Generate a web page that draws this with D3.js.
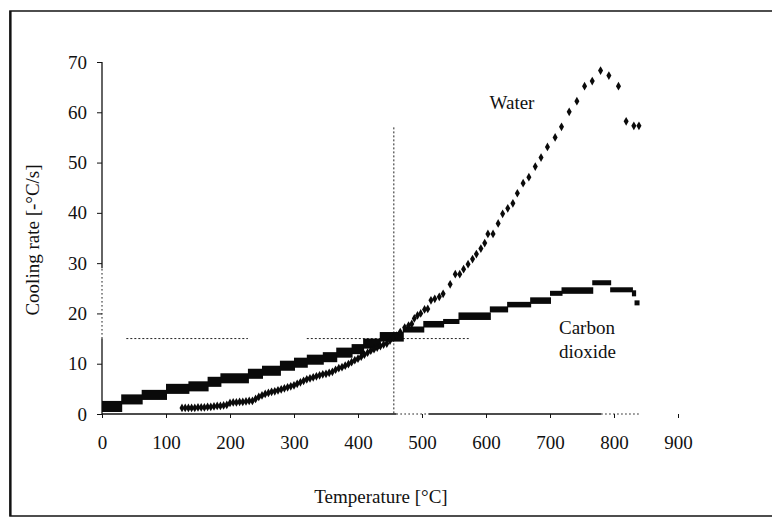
<!DOCTYPE html>
<html>
<head>
<meta charset="utf-8">
<script src="https://cdn.jsdelivr.net/npm/d3@7"></script>
<style>
  body { margin: 0; background: #fff; }
  svg { display: block; }
  svg text { font-family: "Liberation Serif", "Times New Roman", Times, serif; fill: #111; }
</style>
</head>
<body>
<div id="chart"></div>
<script>
// Cooling rate vs temperature, water and carbon dioxide quench

const xTicks = [0, 100, 200, 300, 400, 500, 600, 700, 800, 900];
const yTicks = [0, 10, 20, 30, 40, 50, 60, 70];

// Carbon dioxide: the rate is logged in steps, so it reads as a stepped band
const co2From = [0, 30, 62, 100, 135, 165, 185, 228, 250, 278, 300, 320, 345, 366, 390, 408, 434, 470, 502, 533, 557, 606, 633, 669, 700, 718, 766, 794, 828];
const co2To   = [30, 62, 100, 135, 165, 185, 228, 250, 278, 300, 320, 345, 366, 390, 408, 434, 470, 502, 533, 557, 606, 633, 669, 700, 718, 766, 794, 828, 833];
const co2Low  = [0.4, 1.9, 2.8, 4.0, 4.5, 5.4, 6.1, 7.0, 7.6, 8.6, 9.2, 9.8, 10.3, 11.2, 11.9, 13.0, 14.4, 16.2, 17.2, 17.9, 18.7, 20.2, 21.2, 21.9, 23.5, 23.9, 25.6, 24.2, 23.4];
const co2High = [2.6, 3.9, 4.8, 6.0, 6.5, 7.4, 8.1, 9.0, 9.6, 10.6, 11.2, 11.8, 12.3, 13.2, 13.9, 15.0, 16.3, 17.4, 18.5, 18.9, 20.2, 21.4, 22.3, 23.2, 24.5, 25.2, 26.6, 25.2, 24.6];
const co2EndTemp = [836];
const co2EndRate = [22.1];

// Water: single readings
const waterTemp = [125, 130, 135, 140, 145, 150, 155, 160, 165, 170, 175, 180, 185, 190, 195,
  200, 205, 210, 215, 220, 225, 230, 235, 240, 245, 250, 255, 260, 265, 270, 275, 280, 285, 290, 295,
  300, 305, 310, 315, 320, 325, 330, 335, 340, 345, 350, 355, 360, 365, 370, 375, 380, 385, 390, 395,
  400, 405, 410, 415, 420, 425, 430, 435, 440, 445, 450, 455,
  460, 466, 473, 479, 484, 488, 493, 498, 504, 509, 514, 520, 527, 533, 544, 552, 559, 565, 572, 579,
  585, 592, 598, 603, 611, 619, 626, 634, 642, 649, 658, 667, 677, 686, 696, 708, 718, 730, 742, 754,
  766, 779, 792, 807, 819, 831, 839];
const waterRate = [1.2, 1.2, 1.2, 1.2, 1.2, 1.3, 1.3, 1.3, 1.4, 1.4, 1.5, 1.6, 1.6, 1.7, 1.8,
  2.2, 2.3, 2.3, 2.4, 2.4, 2.5, 2.6, 2.6, 3.0, 3.4, 3.7, 4.0, 4.2, 4.4, 4.5, 4.7, 4.9, 5.1, 5.3, 5.5,
  5.7, 6.0, 6.3, 6.6, 6.9, 7.1, 7.3, 7.5, 7.7, 7.9, 8.0, 8.2, 8.4, 8.8, 9.1, 9.3, 9.6, 9.9, 10.3, 10.7,
  11.0, 11.4, 11.8, 12.2, 12.6, 12.9, 13.2, 13.5, 13.8, 14.0, 14.6, 15.2,
  15.6, 16.3, 17.2, 17.6, 17.9, 19.0, 19.6, 20.0, 20.8, 20.9, 22.6, 22.9, 23.3, 23.9, 25.8, 27.8, 27.8, 28.8, 29.8, 30.8,
  31.8, 32.9, 34.0, 35.8, 35.8, 37.9, 39.8, 40.9, 41.9, 43.9, 45.9, 47.1, 49.2, 51.0, 53.1, 55.0, 57.1, 60.1, 62.2, 65.2,
  66.2, 68.3, 67.3, 65.2, 58.2, 57.3, 57.3];

// crossing point of the two curves, marked with dashed guides
const crossTemp = 456;
const crossRate = 15;
const guideTop = 57;
const hGuideFrom = [38, 320];
const hGuideTo   = [228, 573];

const W = 772, H = 518;
const fontSize = '19px';

const svg = d3.select('#chart').append('svg')
    .attr('width', W)
    .attr('height', H);

// outer frame (right side is cut off in the scan)
svg.append('rect')
    .attr('x', 10).attr('y', 11)
    .attr('width', 780).attr('height', 505)
    .attr('fill', 'none')
    .attr('stroke', '#222')
    .attr('stroke-width', 1.6);
svg.append('line')
    .attr('x1', 10.5).attr('x2', 10.5).attr('y1', 11).attr('y2', 516)
    .attr('stroke', '#111').attr('stroke-width', 2.2);

const x = d3.scaleLinear().domain([0, 900]).range([102, 678]);
const y = d3.scaleLinear().domain([0, 70]).range([414, 62]);

// ── axes ──
const yAxis = svg.append('g')
    .attr('transform', `translate(${x(0)},0)`)
    .call(d3.axisLeft(y).tickValues(yTicks).tickSize(5).tickPadding(10))
    .call(g => g.select('.domain').remove());

const xAxis = svg.append('g')
    .attr('transform', `translate(0,${y(0)})`)
    .call(d3.axisBottom(x).tickValues(xTicks).tickSize(4).tickPadding(18))
    .call(g => g.select('.domain').remove());

[yAxis, xAxis].forEach(g => {
    g.attr('font-family', null).attr('font-size', null);
    g.selectAll('line').attr('stroke', '#111').attr('stroke-width', 1);
    g.selectAll('text')
        .attr('fill', '#111')
        .style('font-size', fontSize);
});

// axis lines (the scan drops parts of them to dots)
const axisPen = (g, dotted) => g
    .attr('stroke', '#111')
    .attr('stroke-width', dotted ? 1 : 1.3)
    .attr('stroke-dasharray', dotted ? '1.5,2.5' : null);

axisPen(svg.append('line').attr('x1', x(0)).attr('x2', x(0)).attr('y1', y(0)).attr('y2', y(15)), false);
axisPen(svg.append('line').attr('x1', x(0)).attr('x2', x(0)).attr('y1', y(15)).attr('y2', y(29)), true);
axisPen(svg.append('line').attr('x1', x(0)).attr('x2', x(0)).attr('y1', y(29)).attr('y2', y(70)), false);

axisPen(svg.append('line').attr('x1', x(0)).attr('x2', x(460)).attr('y1', y(0)).attr('y2', y(0)), false);
axisPen(svg.append('line').attr('x1', x(460)).attr('x2', x(510)).attr('y1', y(0)).attr('y2', y(0)), true);
axisPen(svg.append('line').attr('x1', x(510)).attr('x2', x(780)).attr('y1', y(0)).attr('y2', y(0)), false);
axisPen(svg.append('line').attr('x1', x(780)).attr('x2', x(840)).attr('y1', y(0)).attr('y2', y(0)), true);

// ── dashed guides at the crossing ──
const guides = svg.append('g')
    .attr('stroke', '#222')
    .attr('stroke-width', 1)
    .attr('stroke-dasharray', '2,2');

guides.append('line')
    .attr('x1', x(crossTemp)).attr('x2', x(crossTemp))
    .attr('y1', y(guideTop)).attr('y2', y(0));

guides.selectAll('line.h')
    .data(hGuideFrom.map((f, i) => ({ from: f, to: hGuideTo[i] })))
    .join('line')
    .attr('class', 'h')
    .attr('x1', d => x(d.from)).attr('x2', d => x(d.to))
    .attr('y1', y(crossRate)).attr('y2', y(crossRate));

// ── carbon dioxide band ──
const co2 = co2From.map((f, i) => ({ from: f, to: co2To[i], lo: co2Low[i], hi: co2High[i] }));

svg.append('g')
    .selectAll('rect')
    .data(co2)
    .join('rect')
    .attr('x', d => x(d.from))
    .attr('y', d => y(d.hi))
    .attr('width', d => x(d.to) - x(d.from) + 1)
    .attr('height', d => y(d.lo) - y(d.hi))
    .attr('fill', '#0a0a0a');

svg.append('g')
    .selectAll('rect')
    .data(co2EndTemp.map((t, i) => ({ t, v: co2EndRate[i] })))
    .join('rect')
    .attr('x', d => x(d.t) - 2.5)
    .attr('y', d => y(d.v) - 2.5)
    .attr('width', 5).attr('height', 5)
    .attr('fill', '#0a0a0a');

// ── water points ──
const water = waterTemp.map((t, i) => ({ t, v: waterRate[i] }));
const diamond = d3.symbol().type(d3.symbolDiamond).size(22);

svg.append('g')
    .selectAll('path')
    .data(water)
    .join('path')
    .attr('transform', d => `translate(${x(d.t)},${y(d.v)})`)
    .attr('d', diamond)
    .attr('fill', '#0a0a0a');

// ── labels ──
svg.append('text')
    .attr('x', 512).attr('y', 109)
    .attr('text-anchor', 'middle')
    .style('font-size', fontSize)
    .text('Water');

svg.append('text')
    .attr('x', 559).attr('y', 334)
    .style('font-size', fontSize)
    .text('Carbon');

svg.append('text')
    .attr('x', 559).attr('y', 358)
    .style('font-size', fontSize)
    .text('dioxide');

svg.append('text')
    .attr('x', 381).attr('y', 503)
    .attr('text-anchor', 'middle')
    .style('font-size', fontSize)
    .text('Temperature [°C]');

svg.append('text')
    .attr('transform', 'translate(39,240) rotate(-90)')
    .attr('text-anchor', 'middle')
    .style('font-size', fontSize)
    .text('Cooling rate [-°C/s]');
</script>
</body>
</html>
